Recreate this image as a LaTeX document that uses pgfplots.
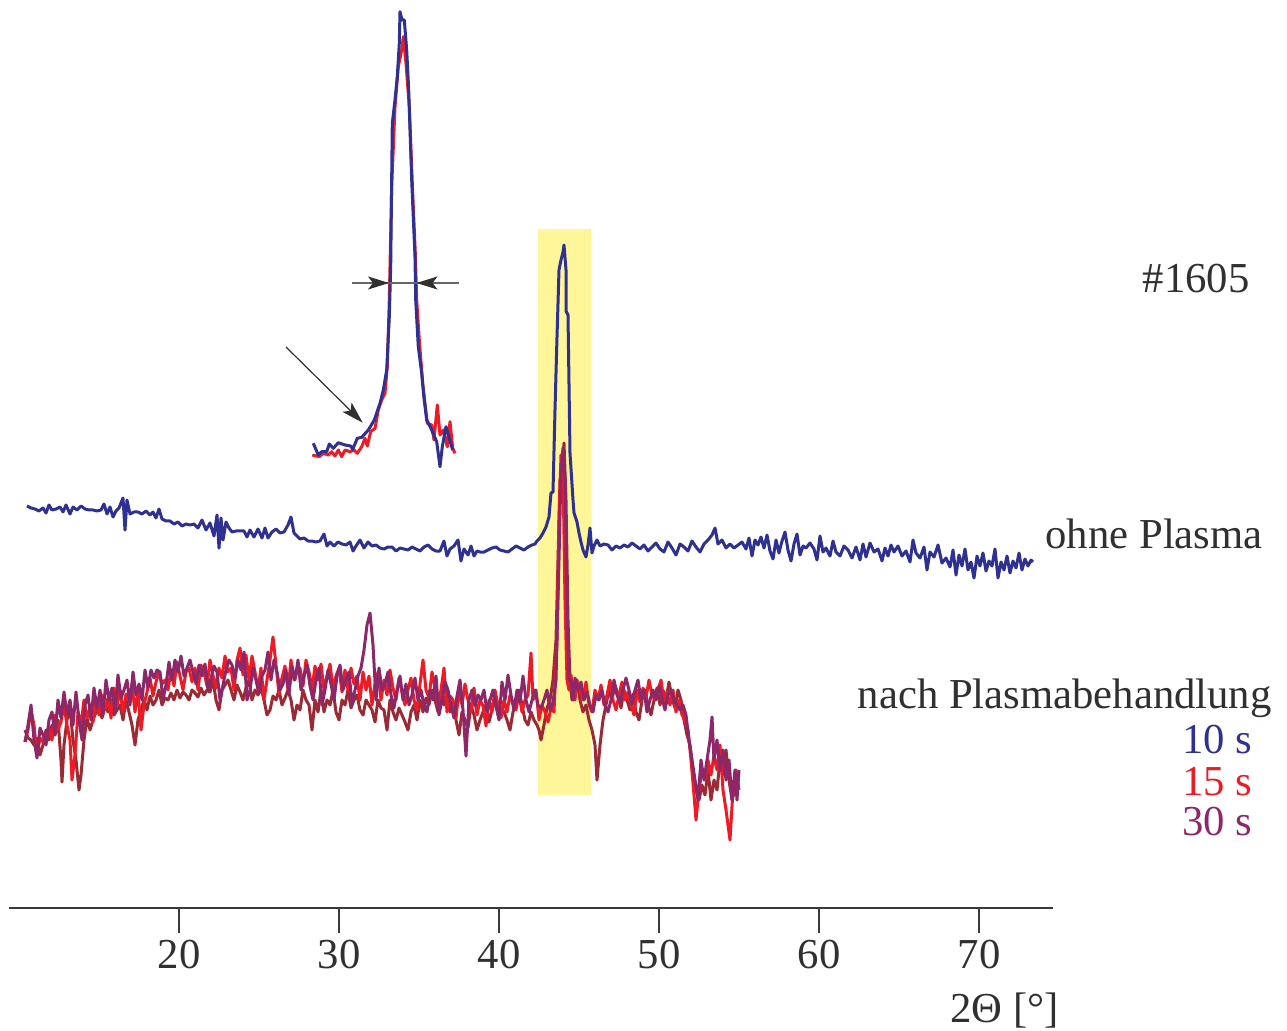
\documentclass[border=0pt]{standalone}
\usepackage{pgfplots}
\pgfplotsset{compat=1.18}
\usepackage{pgfplotstable}
\usepackage{fontspec}
\setmainfont{Liberation Serif}
\usetikzlibrary{arrows.meta}
\definecolor{cblue}{HTML}{2E3192}
\definecolor{cred}{HTML}{ED1C24}
\definecolor{cpurple}{HTML}{8C2869}
\definecolor{cbrown}{HTML}{9A2B35}
\definecolor{cyellow}{HTML}{FFF599}
\definecolor{ctext}{HTML}{303030}
\definecolor{caxis}{HTML}{3A3A3A}

% all series in picture units: x = pixel column, y = pixel row (transformed by filters)
\pgfplotstableread[row sep=\\]{x y\\
27 506\\ 31 508\\ 35 509\\ 39 511\\ 43 508\\ 46 513\\ 49 505\\ 52 510\\ 56 509\\ 60 507\\ 63 512\\ 66 505\\ 70 514\\ 73 507\\ 77 510\\ 81 506\\ 85 509\\ 89 510\\ 93 510\\ 97 511\\ 101 510\\ 104 504\\ 107 514\\ 110 507\\ 113 517\\ 116 511\\ 119 508\\ 123 498\\ 125 530\\ 127 500\\ 130 514\\ 134 512\\ 138 512\\ 142 514\\ 146 511\\ 150 515\\ 153 512\\ 156 518\\ 159 509\\ 162 519\\ 166 521\\ 170 521\\ 174 524\\ 178 522\\ 182 526\\ 186 524\\ 190 525\\ 194 524\\ 198 528\\ 202 520\\ 206 530\\ 210 523\\ 214 536\\ 217 515\\ 219 548\\ 221 518\\ 223 540\\ 226 522\\ 229 528\\ 232 532\\ 236 531\\ 240 531\\ 244 531\\ 247 537\\ 250 530\\ 254 537\\ 258 529\\ 262 538\\ 265 528\\ 268 538\\ 272 532\\ 276 529\\ 280 533\\ 284 532\\ 288 525\\ 291 517\\ 294 533\\ 297 536\\ 300 539\\ 304 538\\ 308 541\\ 312 541\\ 316 542\\ 320 541\\ 324 534\\ 327 546\\ 330 542\\ 334 546\\ 338 542\\ 342 544\\ 346 545\\ 350 542\\ 353 551\\ 356 546\\ 360 540\\ 364 548\\ 368 542\\ 372 546\\ 376 545\\ 380 548\\ 384 549\\ 388 547\\ 392 547\\ 396 551\\ 400 548\\ 404 549\\ 408 550\\ 412 547\\ 416 549\\ 420 551\\ 424 547\\ 428 545\\ 432 549\\ 436 551\\ 440 551\\ 444 541\\ 447 556\\ 450 549\\ 454 546\\ 458 540\\ 461 561\\ 464 549\\ 468 555\\ 471 546\\ 474 556\\ 477 551\\ 480 552\\ 484 552\\ 488 550\\ 492 548\\ 496 547\\ 500 550\\ 504 551\\ 508 552\\ 512 549\\ 516 546\\ 520 548\\ 524 550\\ 528 547\\ 532 545\\ 535 544\\
537 541\\ 540 538\\ 543 533\\ 546 527\\ 549 517\\ 551 493\\ 553 492\\ 555 410\\ 557 337\\ 559 270\\ 561 260\\ 563 252\\ 564 245\\ 566 270\\ 566 311\\ 568 315\\ 570 453\\ 573 500\\ 574 513\\ 577 522\\ 579 533\\ 581 542\\ 583 550\\ 586 557\\ 588 545\\ 590 528\\ 592 553\\ 594 546\\ 597 540\\
600 546\\ 604 544\\ 608 545\\ 612 550\\ 616 546\\ 620 548\\ 624 545\\ 628 547\\ 632 543\\ 636 546\\ 640 549\\ 644 545\\ 648 551\\ 652 547\\ 656 543\\ 660 549\\ 664 552\\ 668 542\\ 672 548\\ 676 555\\ 680 544\\ 684 547\\ 688 551\\ 692 541\\ 696 547\\ 700 552\\ 704 544\\ 708 540\\ 712 535\\ 715 528\\ 718 544\\ 722 540\\ 726 548\\ 730 544\\ 734 548\\ 738 545\\ 742 542\\ 746 549\\ 749 538\\ 752 556\\ 755 540\\ 758 545\\ 761 537\\ 764 548\\ 767 535\\ 770 551\\ 773 559\\ 776 540\\ 779 553\\ 782 541\\ 785 532\\ 788 550\\ 791 561\\ 794 544\\ 797 534\\ 800 555\\ 803 546\\ 806 548\\ 810 543\\ 814 549\\ 817 560\\ 820 536\\ 823 552\\ 826 548\\ 830 556\\ 833 541\\ 836 552\\ 840 556\\ 844 546\\ 848 550\\ 852 558\\ 856 547\\ 860 560\\ 863 544\\ 866 557\\ 870 543\\ 874 552\\ 878 549\\ 882 561\\ 885 548\\ 888 556\\ 891 545\\ 894 552\\ 898 546\\ 902 556\\ 906 551\\ 910 562\\ 913 540\\ 916 553\\ 920 558\\ 924 547\\ 927 570\\ 930 552\\ 934 557\\ 938 545\\ 942 563\\ 946 558\\ 950 567\\ 953 550\\ 956 575\\ 959 555\\ 962 566\\ 965 549\\ 968 570\\ 971 562\\ 974 578\\ 977 556\\ 980 566\\ 983 553\\ 986 571\\ 989 561\\ 992 566\\ 995 549\\ 998 578\\ 1001 562\\ 1004 570\\ 1007 556\\ 1010 573\\ 1013 561\\ 1016 568\\ 1019 553\\ 1022 570\\ 1025 559\\ 1028 566\\ 1031 560\\ 1033 562\\
}\bluemain

\pgfplotstableread[row sep=\\]{x y\\
313.3 443.3\\ 318.3 455\\ 321.7 451.7\\ 326.7 451.7\\ 329.3 444\\ 333.3 448.3\\ 338.3 442.7\\ 345 445\\ 350.7 446\\ 352.7 449.3\\ 357.3 438.3\\ 361.7 437.3\\ 368.3 430\\ 374.3 420\\ 380 403.3\\ 383.3 390\\ 386.7 370\\ 389.3 316.7\\ 390.7 266.7\\ 392.3 123.3\\ 395 100\\ 397.3 76.7\\ 399.3 43.3\\ 400 11.7\\ 402 20\\ 404.3 20\\ 406.7 50\\ 408.7 90\\ 411.7 180\\ 415 256.7\\ 415.7 300\\ 418.3 346.7\\ 421.7 373.3\\ 424 398.3\\ 426.7 420\\ 431.7 430\\ 436.7 441.7\\ 440 466.7\\ 442.3 446.7\\ 446 426.7\\ 448.3 435\\ 452.7 450\\
}\blueinset

\pgfplotstableread[row sep=\\]{x y\\
312.3 455\\ 319.3 456.7\\ 323.3 453.3\\ 328.3 455\\ 331.7 451.7\\ 335 456\\ 338.3 450\\ 341.7 456.7\\ 345 450\\ 350 451.7\\ 354 450\\ 357.3 453.3\\ 361.7 446.7\\ 365 438.3\\ 367.3 446\\ 370.7 431.7\\ 375 428.3\\ 378.3 410\\ 381.7 400\\ 385 393.3\\ 387.3 366.7\\ 389.3 300\\ 391.7 186.7\\ 395 106.7\\ 398.3 66.7\\ 401.7 50\\ 403.3 36.7\\ 406 63.3\\ 409.3 106.7\\ 412.7 193.3\\ 415.3 253.3\\ 416.7 300\\ 419.3 340\\ 422.7 383.3\\ 425 403.3\\ 427.3 423.3\\ 431.7 425\\ 434 440\\ 437.3 405\\ 440 435\\ 443.3 430\\ 447.3 446.7\\ 450 421.7\\ 452.7 448.3\\ 455 453.3\\
}\redinset

\pgfplotstableread[row sep=\\]{x y\\
25 742\\ 28 730\\ 31 710\\ 34 725\\ 37 755\\ 40 738\\ 43 742\\ 46 735\\ 49 728\\ 52 740\\ 55 715\\ 58 730\\ 61 722\\ 64 705\\ 67 725\\ 70 740\\ 72 780\\ 75 755\\ 78 712\\ 81 725\\ 84 700\\ 87 718\\ 90 708\\ 93 722\\ 96 700\\ 99 715\\ 102 695\\ 105 710\\ 108 698\\ 111 718\\ 114 688\\ 117 705\\ 120 690\\ 123 712\\ 126 694\\ 129 700\\ 132 684\\ 135 712\\ 138 690\\ 141 730\\ 144 705\\ 147 692\\ 150 678\\ 153 696\\ 156 682\\ 159 672\\ 162 684\\ 165 680\\ 168 690\\ 171 670\\ 174 686\\ 177 662\\ 180 676\\ 183 690\\ 186 672\\ 189 668\\ 192 682\\ 195 668\\ 198 690\\ 201 665\\ 204 672\\ 207 686\\ 210 660\\ 213 675\\ 216 688\\ 219 668\\ 222 678\\ 225 656\\ 228 672\\ 231 668\\ 234 690\\ 237 660\\ 240 648\\ 243 675\\ 246 655\\ 249 680\\ 252 656\\ 255 672\\ 258 690\\ 261 668\\ 264 700\\ 267 680\\ 270 660\\ 273 637\\ 276 665\\ 279 694\\ 282 678\\ 285 666\\ 288 690\\ 291 660\\ 294 680\\ 297 672\\ 300 668\\ 303 686\\ 306 660\\ 309 672\\ 312 690\\ 315 666\\ 318 680\\ 321 664\\ 324 690\\ 327 676\\ 330 664\\ 333 688\\ 336 676\\ 339 668\\ 342 692\\ 345 670\\ 348 690\\ 351 668\\ 354 684\\ 357 676\\ 360 700\\ 363 672\\ 366 690\\ 369 676\\ 372 705\\ 375 684\\ 378 672\\ 381 700\\ 384 680\\ 387 695\\ 390 670\\ 393 688\\ 396 700\\ 399 678\\ 402 692\\ 405 705\\ 408 690\\ 411 678\\ 414 700\\ 417 710\\ 420 684\\ 423 660\\ 426 690\\ 429 698\\ 432 672\\ 435 688\\ 438 705\\ 441 690\\ 444 668\\ 447 712\\ 450 696\\ 453 700\\ 456 718\\ 459 690\\ 462 705\\ 465 684\\ 468 700\\ 471 712\\ 474 688\\ 477 715\\ 480 700\\ 483 706\\ 486 726\\ 489 700\\ 492 712\\ 495 690\\ 498 705\\ 501 718\\ 504 700\\ 507 712\\ 510 695\\ 513 704\\ 516 710\\ 519 694\\ 522 712\\ 525 700\\ 528 695\\ 531 653\\ 533 700\\ 536 690\\ 539 720\\ 542 705\\ 545 712\\ 548 722\\ 551 708\\ 554 712\\ 557 640\\ 559 520\\ 561 455\\ 563 470\\ 565 600\\ 567 680\\ 569 690\\ 571 675\\ 573 693\\ 575 700\\ 577 682\\ 580 690\\ 583 700\\ 586 682\\ 589 705\\ 592 712\\ 595 690\\ 598 700\\ 601 685\\ 604 705\\ 607 695\\ 610 680\\ 613 700\\ 616 710\\ 619 695\\ 622 682\\ 625 700\\ 628 692\\ 631 705\\ 634 715\\ 637 690\\ 640 702\\ 643 688\\ 646 698\\ 649 680\\ 652 695\\ 655 700\\ 658 690\\ 661 680\\ 664 702\\ 667 692\\ 670 705\\ 673 690\\ 676 712\\ 679 700\\ 682 715\\ 685 720\\ 688 730\\ 691 760\\ 694 795\\ 696 820\\ 699 790\\ 702 770\\ 705 780\\ 708 760\\ 711 775\\ 714 755\\ 717 770\\ 720 745\\ 723 790\\ 726 810\\ 728 825\\ 730 840\\ 733 790\\ 736 770\\ 739 790\\
}\redlow

\pgfplotstableread[row sep=\\]{x y\\
25 742\\ 28 725\\ 31 705\\ 34 740\\ 37 758\\ 40 728\\ 43 735\\ 46 745\\ 49 720\\ 52 712\\ 55 735\\ 58 700\\ 61 718\\ 64 692\\ 67 715\\ 70 700\\ 73 725\\ 76 692\\ 79 720\\ 82 740\\ 85 705\\ 88 695\\ 91 720\\ 94 688\\ 97 708\\ 100 690\\ 103 715\\ 106 680\\ 109 700\\ 112 688\\ 115 712\\ 118 675\\ 121 698\\ 124 690\\ 127 680\\ 130 705\\ 133 672\\ 136 695\\ 139 684\\ 142 700\\ 145 670\\ 148 688\\ 151 670\\ 154 678\\ 157 670\\ 160 672\\ 163 700\\ 166 685\\ 169 662\\ 172 680\\ 175 660\\ 178 672\\ 181 656\\ 184 676\\ 187 668\\ 190 660\\ 193 672\\ 196 684\\ 199 665\\ 202 676\\ 205 664\\ 208 690\\ 211 678\\ 214 666\\ 217 672\\ 220 700\\ 223 685\\ 226 670\\ 229 660\\ 232 665\\ 235 678\\ 238 660\\ 241 670\\ 244 652\\ 247 700\\ 250 690\\ 253 668\\ 256 680\\ 259 692\\ 262 676\\ 265 670\\ 268 652\\ 271 680\\ 274 660\\ 277 672\\ 280 690\\ 283 684\\ 286 670\\ 289 694\\ 292 666\\ 295 680\\ 298 660\\ 301 690\\ 304 676\\ 307 665\\ 310 686\\ 313 700\\ 316 680\\ 319 668\\ 322 705\\ 325 690\\ 328 670\\ 331 684\\ 334 700\\ 337 676\\ 340 665\\ 343 690\\ 346 680\\ 349 672\\ 352 704\\ 355 690\\ 358 676\\ 361 668\\ 364 650\\ 367 625\\ 370 613\\ 373 645\\ 376 700\\ 379 668\\ 382 690\\ 385 684\\ 388 672\\ 391 695\\ 394 708\\ 397 690\\ 400 676\\ 403 700\\ 406 684\\ 409 705\\ 412 695\\ 415 678\\ 418 700\\ 421 690\\ 424 705\\ 427 712\\ 430 690\\ 433 700\\ 436 676\\ 439 715\\ 442 700\\ 445 682\\ 448 690\\ 451 705\\ 454 718\\ 457 696\\ 460 680\\ 463 710\\ 466 756\\ 469 700\\ 472 690\\ 475 706\\ 478 695\\ 481 700\\ 484 690\\ 487 712\\ 490 700\\ 493 690\\ 496 705\\ 499 720\\ 502 682\\ 505 700\\ 508 675\\ 511 695\\ 514 710\\ 517 690\\ 520 702\\ 523 676\\ 526 700\\ 529 712\\ 532 700\\ 535 690\\ 538 705\\ 541 708\\ 544 700\\ 547 690\\ 550 710\\ 553 702\\ 556 680\\ 559 560\\ 561 470\\ 563 448\\ 565 480\\ 567 600\\ 569 680\\ 571 680\\ 573 700\\ 575 678\\ 578 690\\ 581 682\\ 584 700\\ 587 692\\ 590 705\\ 593 712\\ 596 695\\ 599 700\\ 602 690\\ 605 705\\ 608 712\\ 611 700\\ 614 680\\ 617 695\\ 620 702\\ 623 690\\ 626 678\\ 629 690\\ 632 705\\ 635 690\\ 638 680\\ 641 700\\ 644 690\\ 647 712\\ 650 700\\ 653 690\\ 656 700\\ 659 686\\ 662 698\\ 665 710\\ 668 695\\ 671 690\\ 674 700\\ 677 705\\ 680 710\\ 683 705\\ 686 715\\ 689 740\\ 692 760\\ 695 780\\ 698 800\\ 701 760\\ 704 780\\ 707 760\\ 710 740\\ 712 717\\ 714 760\\ 717 740\\ 720 770\\ 723 750\\ 726 780\\ 729 760\\ 732 800\\ 735 770\\ 737 800\\ 739 770\\
}\purplelow

\pgfplotstableread[row sep=\\]{x y\\
25 730\\ 28 738\\ 31 740\\ 34 745\\ 37 738\\ 40 755\\ 43 745\\ 46 730\\ 49 740\\ 52 725\\ 55 735\\ 58 720\\ 61 760\\ 62 782\\ 64 745\\ 67 720\\ 70 708\\ 73 740\\ 76 760\\ 79 790\\ 81 775\\ 84 740\\ 87 718\\ 90 730\\ 93 720\\ 96 712\\ 99 708\\ 102 718\\ 105 705\\ 108 712\\ 111 700\\ 114 715\\ 117 710\\ 120 705\\ 123 720\\ 126 700\\ 129 712\\ 132 725\\ 135 745\\ 138 720\\ 141 710\\ 144 700\\ 147 710\\ 150 696\\ 153 705\\ 156 700\\ 159 690\\ 162 705\\ 165 698\\ 168 700\\ 171 693\\ 174 700\\ 177 690\\ 180 698\\ 183 692\\ 186 695\\ 189 700\\ 192 690\\ 195 693\\ 198 697\\ 201 688\\ 204 695\\ 207 690\\ 210 692\\ 213 680\\ 216 700\\ 219 710\\ 222 690\\ 225 685\\ 228 680\\ 231 690\\ 234 700\\ 237 685\\ 240 692\\ 243 700\\ 246 688\\ 249 680\\ 252 700\\ 255 690\\ 258 695\\ 261 688\\ 264 700\\ 267 715\\ 270 710\\ 273 696\\ 276 700\\ 279 690\\ 282 705\\ 285 698\\ 288 690\\ 291 700\\ 294 720\\ 297 705\\ 300 710\\ 303 690\\ 306 700\\ 309 705\\ 312 730\\ 315 700\\ 318 712\\ 321 690\\ 324 712\\ 327 700\\ 330 705\\ 333 690\\ 336 712\\ 339 720\\ 342 700\\ 345 705\\ 348 690\\ 351 708\\ 354 700\\ 357 695\\ 360 710\\ 363 715\\ 366 700\\ 369 705\\ 372 710\\ 375 722\\ 378 700\\ 381 708\\ 384 710\\ 387 730\\ 390 700\\ 393 712\\ 396 720\\ 399 708\\ 402 715\\ 405 722\\ 408 730\\ 411 712\\ 414 705\\ 417 720\\ 420 700\\ 423 712\\ 426 698\\ 429 705\\ 432 690\\ 435 700\\ 438 712\\ 441 698\\ 444 705\\ 447 690\\ 450 712\\ 453 705\\ 456 720\\ 459 735\\ 462 712\\ 465 720\\ 468 728\\ 471 705\\ 474 715\\ 477 730\\ 480 720\\ 483 712\\ 486 705\\ 489 722\\ 492 710\\ 495 700\\ 498 715\\ 501 708\\ 504 712\\ 507 720\\ 510 730\\ 513 712\\ 516 705\\ 519 690\\ 522 705\\ 525 720\\ 528 725\\ 531 712\\ 534 720\\ 537 725\\ 539 730\\ 541 740\\ 544 725\\ 547 708\\ 550 700\\ 553 680\\ 556 640\\ 558 560\\ 560 480\\ 562 470\\ 564 443\\ 566 500\\ 568 620\\ 570 680\\ 572 700\\ 574 695\\ 577 680\\ 580 700\\ 583 712\\ 586 705\\ 589 720\\ 592 730\\ 595 745\\ 597 780\\ 600 745\\ 603 720\\ 606 705\\ 609 690\\ 612 700\\ 615 685\\ 618 695\\ 621 708\\ 624 690\\ 627 700\\ 630 710\\ 633 694\\ 636 712\\ 639 720\\ 642 700\\ 645 690\\ 648 705\\ 651 715\\ 654 700\\ 657 688\\ 660 705\\ 663 690\\ 666 700\\ 669 682\\ 672 698\\ 675 708\\ 678 690\\ 681 700\\ 684 720\\ 687 735\\ 690 745\\ 693 770\\ 696 790\\ 699 800\\ 702 785\\ 705 795\\ 708 770\\ 711 800\\ 714 780\\ 717 790\\ 720 760\\ 723 775\\ 726 750\\ 729 780\\ 732 800\\ 735 790\\ 738 795\\
}\brownlow

\begin{document}
\begin{tikzpicture}
\begin{axis}[
  scale only axis, width=522pt, height=451.5pt,
  xmin=9.375, xmax=74.625, ymin=122, ymax=1025,
  x filter/.expression={10+(x-19)/16},
  y filter/.expression={1030-y},
  axis x line=bottom, axis y line=none,
  x axis line style={-, color=caxis, line width=1pt},
  xtick={20,30,40,50,60,70},
  tick align=outside, major tick length=12.5pt,
  every tick/.style={color=caxis, line width=0.6pt},
  xticklabel style={font=\fontsize{21.35}{24}\selectfont, text=ctext},
  /pgf/number format/assume math mode=true,
  clip=false,
  every axis plot/.append style={line width=1.5pt, line join=round, mark=none},
]
\addplot[fill=cyellow, draw=none] coordinates {(538,229) (591,229) (591,795) (538,795)} -- cycle;
\addplot[cblue] table {\bluemain};
\addplot[cbrown] table {\brownlow};
\addplot[cred] table {\redlow};
\addplot[cpurple] table {\purplelow};
\addplot[cred] table {\redinset};
\addplot[cblue] table {\blueinset};
\end{axis}
\begin{scope}[shift={(current axis.south west)}, x=0.5pt, y=-0.5pt, shift={(-9,-908)}]
  \draw[color=gray!80!black, line width=0.6pt] (352,283) -- (459,283);
  \draw[color=gray!80!black, line width=0.6pt, -{Stealth[length=10.5pt,width=6.5pt,inset=2.5pt,color=ctext]}] (352,283) -- (389,283);
  \draw[color=gray!80!black, line width=0.6pt, -{Stealth[length=10.5pt,width=6.5pt,inset=2.5pt,color=ctext]}] (459,283) -- (416.5,283);
  \draw[color=ctext, line width=0.6pt, -{Stealth[length=11pt,width=6.5pt,inset=2.5pt]}] (286,347) -- (362.7,422.7);
  \begin{scope}[every node/.style={inner sep=0pt, font=\fontsize{21.35}{24}\selectfont}]
  \node[anchor=base east, text=ctext] at (1250,293) {\#1605};
  \node[anchor=base east, text=ctext] at (1263,549) {ohne Plasma};
  \node[anchor=base east, text=ctext] at (1272,708) {nach Plasmabehandlung};
  \node[anchor=base east, text=cblue] at (1253,753) {10 s};
  \node[anchor=base east, text=cred] at (1253,795) {15 s};
  \node[anchor=base east, text=cpurple] at (1253,835) {30 s};
  \node[anchor=base east, text=ctext] at (1059,1022) {2Θ [°]};
  \end{scope}
  \pgfresetboundingbox
  \path[use as bounding box] (0,0) rectangle (1287,1030);
\end{scope}
\end{tikzpicture}
\end{document}
